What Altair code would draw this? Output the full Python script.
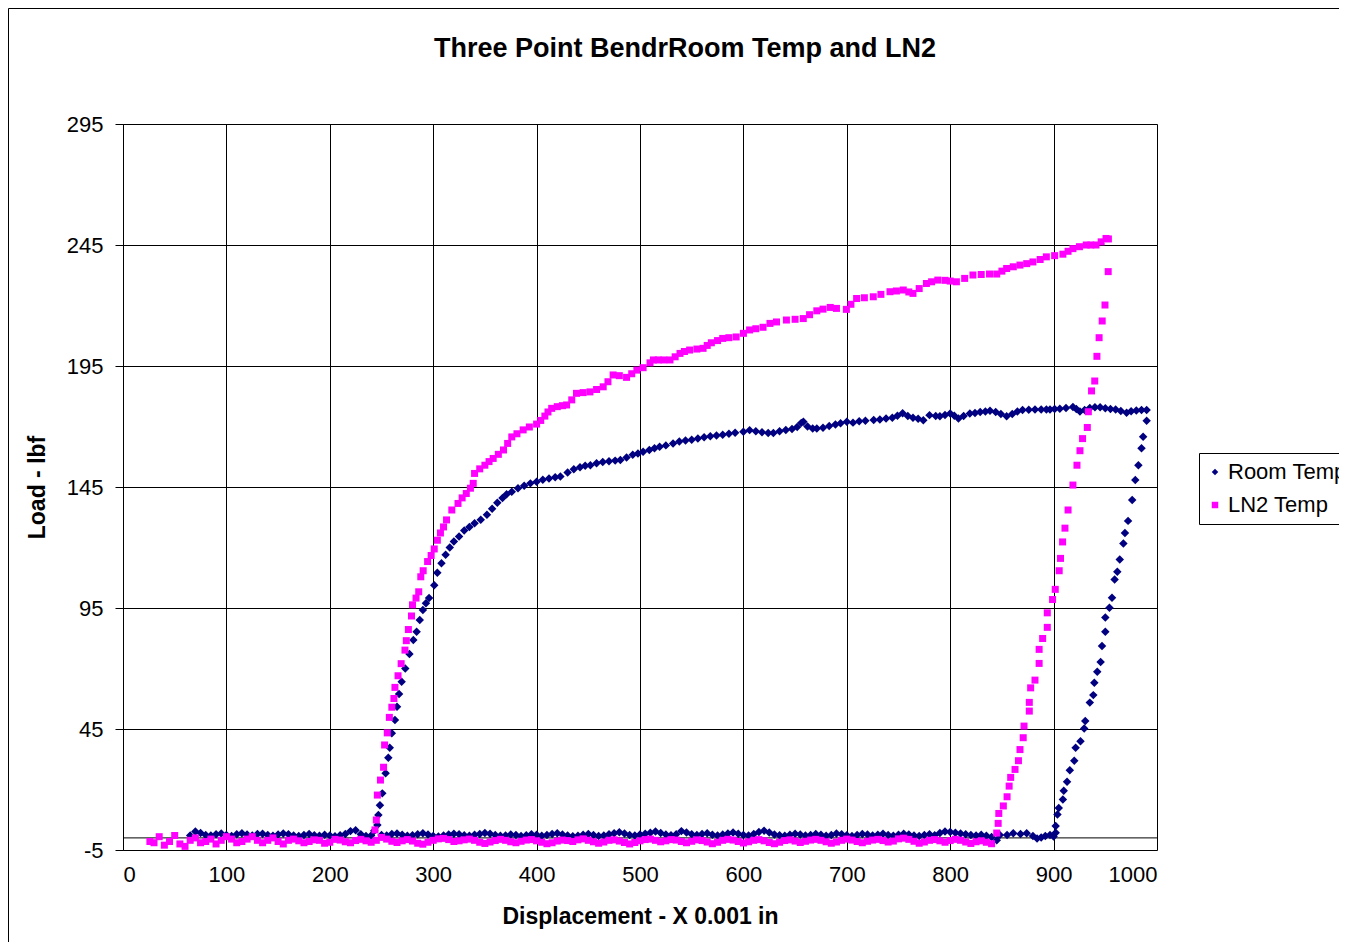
import altair as alt
import pandas as pd

# ---------------- data ----------------
series_names = ["Room Temp", "LN2 Temp"]
series_colors = ["#000080", "#FF00FF"]
series_shapes = ["diamond", "square"]

x_ticks = [0, 100, 200, 300, 400, 500, 600, 700, 800, 900, 1000]
y_ticks = [-5, 45, 95, 145, 195, 245, 295]

# Room Temp: flat start
room_base1_x = [65, 70, 75, 80, 85, 90, 95, 100, 105, 110, 115, 120, 125, 130, 135, 140, 145, 150,
                155, 160, 165, 170, 175, 180, 185, 190, 195, 200, 205, 210, 215, 220, 225, 230, 235, 240]
room_base1_y = [1.0, 2.6, 2.0, 1.2, 1.0, 1.5, 1.8, 1.2, 0.8, 1.5, 1.9, 1.4, 1.0, 1.6, 1.7, 1.2, 0.9, 1.4,
                1.8, 1.5, 1.0, 0.8, 1.2, 1.6, 1.1, 0.9, 1.3, 1.0, 0.7, 1.1, 1.6, 2.8, 3.2, 1.5, 0.8, 1.0]

# Room Temp: loading curve
room_load_x = [243, 246, 247, 248.5, 250.8, 254, 256.6, 258, 260, 263, 265, 267, 269.5, 273, 277, 280.8,
               284, 287, 290, 293, 296, 301, 304, 308, 312, 316, 320, 325, 330, 335, 340, 346, 352, 357,
               362, 367, 371, 376, 382, 388, 394, 400, 406, 412, 418, 423, 430, 436, 442, 447, 452, 458,
               464, 470, 476, 481, 487, 493, 498, 503, 509, 514, 519, 525, 532, 538, 544, 550, 556, 562,
               568, 574, 580, 586, 592, 600, 606, 612, 618, 624, 629, 635, 641, 647, 652, 656, 658, 662,
               667, 671, 677, 683, 689, 694, 700, 706, 712, 718, 726, 732, 738, 744, 749, 754, 759, 764,
               769, 774, 780, 786, 790, 795, 800, 804, 808, 813, 819, 824, 829, 834, 838.5, 844, 849,
               854.6, 860, 865, 870, 876, 882, 888, 893, 896.5, 901, 906, 912, 918.7, 922, 925.5, 930,
               935, 940, 945, 950, 955, 960, 965, 970.6, 975, 980, 985, 990]
room_load_y = [3.0, 5.3, 9.5, 13.5, 18.4, 26.7, 33.1, 37.3, 43.2, 48.7, 54.2, 59.5, 64.5, 70, 76, 81.8,
               85.2, 90, 94.2, 97, 99.1, 104.4, 109.6, 113.5, 117, 120, 122.5, 124.5, 127, 128.5, 130,
               131.5, 133.5, 136, 138.5, 140.5, 142, 143, 144.5, 145.5, 146.5, 147.2, 148, 148.5, 149,
               149.3, 151, 152.3, 153.2, 153.8, 154, 154.8, 155.3, 155.6, 155.9, 156.2, 157.2, 158.3,
               158.8, 159.6, 160.3, 161, 161.6, 162.2, 163, 163.8, 164.2, 164.5, 165, 165.6, 166, 166.3,
               166.6, 167, 167.4, 167.8, 168.5, 168, 167.6, 167.3, 167.3, 168, 168.6, 169, 169.8, 171.5,
               172, 170, 169.2, 169.2, 169.5, 170.2, 170.8, 171.3, 172, 171.6, 172.2, 172.4, 172.7, 172.9,
               173.3, 173.6, 174.4, 175.5, 174.3, 173.6, 173.2, 172.6, 174.7, 174.3, 174.2, 174.8, 175.4,
               174.4, 173.3, 174.3, 175.4, 175.6, 176, 176.2, 176.5, 176, 175.2, 174.2, 175.2, 176.2,
               176.8, 176.9, 177, 177, 177, 177, 177.2, 177.3, 177.6, 178.1, 177.2, 176.2, 176.8, 177.6,
               178, 178, 177.5, 177.2, 177, 176.4, 175.7, 176.3, 176.6, 176.8, 176.8]

# Room Temp: steep branch on the right
room_ramp_x = [990, 986.6, 985, 982, 979, 976, 972, 969, 967.5, 964, 961.6, 959, 956.5, 954, 950, 950,
               946.8, 945.5, 942.2, 939.4, 938.4, 935, 930.6, 929.6, 926, 921.3, 920, 915.7, 913, 909.8,
               909, 905, 903.7, 902, 902]
room_ramp_y = [172.4, 165.8, 161, 154, 147.9, 139.6, 131, 126, 121.7, 115, 110, 106.8, 99.2, 95.1, 91.1,
               85.2, 79.3, 72.7, 68.7, 64.1, 59, 55.9, 48.3, 45.2, 39.9, 37.3, 31.9, 28, 23.2, 19.5, 15.9,
               12.4, 9.7, 4.9, 2.1]

# Room Temp: flat part near zero, 250..900
room_base2_x = [250, 255, 260, 265, 270, 275, 280, 285, 290, 295, 300, 305, 310, 315, 320, 325, 330, 335,
                340, 345, 350, 355, 360, 365, 370, 375, 380, 385, 390, 395, 400, 405, 410, 415, 420, 425,
                430, 435, 440, 445, 450, 455, 460, 465, 470, 475, 480, 485, 490, 495, 500, 505, 510, 515,
                520, 525, 530, 535, 540, 545, 550, 555, 560, 565, 570, 575, 580, 585, 590, 595, 600, 605,
                610, 615, 620, 625, 630, 635, 640, 645, 650, 655, 660, 665, 670, 675, 680, 685, 690, 695,
                700, 705, 710, 715, 720, 725, 730, 735, 740, 745, 750, 755, 760, 765, 770, 775, 780, 785,
                790, 795, 800, 805, 810, 815, 820, 825, 830, 835, 840, 845, 848, 855, 861, 868, 874, 880,
                884, 888, 892, 896.5, 900]
room_base2_y = [1.2, 1.0, 1.6, 1.8, 1.3, 0.9, 1.1, 1.5, 1.9, 1.4,
                0.8, 0.6, 1.0, 1.4, 1.7, 1.5, 1.1, 0.9, 1.3, 1.6,
                2.0, 1.7, 1.2, 0.9, 1.0, 1.4, 1.2, 0.8, 1.1, 1.5,
                1.3, 0.9, 1.2, 1.6, 1.9, 1.4, 1.0, 0.7, 0.9, 1.3,
                1.6, 1.2, 0.8, 1.0, 1.5, 1.9, 2.3, 1.8, 1.2, 1.0,
                1.4, 1.7, 2.1, 2.6, 2.0, 1.4, 1.1, 1.5, 2.8, 2.2,
                1.5, 1.2, 1.6, 1.9, 1.3, 1.0, 1.4, 1.8, 2.2, 1.7,
                1.2, 1.0, 1.6, 2.4, 3.0, 2.2, 1.4, 1.1, 0.9, 1.3,
                1.7, 1.4, 1.0, 1.2, 1.6, 1.3, 0.9, 1.2, 1.8, 1.5,
                1.1, 0.8, 1.2, 1.6, 1.4, 1.0, 1.3, 1.7, 1.2, 0.9,
                1.3, 1.7, 1.4, 1.0, 0.8, 1.2, 1.5, 1.1, 2.0, 2.6,
                2.4, 2.1, 1.8, 1.5, 1.2, 1.0, 1.3, 0.9, 0.4, -1.0,
                1.2, 1.2, 1.9, 1.6, 1.9, 0.8, -0.2, 0.2, 0.8, 1.2, 0.6]

# LN2 Temp: flat part near zero
ln2_base_x = [26, 30, 35, 40, 45, 50, 55, 60, 65, 70, 75, 80, 85, 90, 95, 100, 105, 110, 115, 120, 125,
              130, 135, 140, 145, 150, 155, 160, 165, 170, 175, 180, 185, 190, 195, 200, 205, 210, 215,
              220, 225, 230, 235, 240, 245, 250, 255, 260, 265, 270, 275, 280, 285, 290, 295, 300, 305,
              310, 315, 320, 325, 330, 335, 340, 345, 350, 355, 360, 365, 370, 375, 380, 385, 390, 395,
              400, 405, 410, 415, 420, 425, 430, 435, 440, 445, 450, 455, 460, 465, 470, 475, 480, 485,
              490, 495, 500, 505, 510, 515, 520, 525, 530, 535, 540, 545, 550, 555, 560, 565, 570, 575,
              580, 585, 590, 595, 600, 605, 610, 615, 620, 625, 630, 635, 640, 645, 650, 655, 660, 665,
              670, 675, 680, 685, 690, 695, 700, 705, 710, 715, 720, 725, 730, 735, 740, 745, 750, 755,
              760, 765, 770, 775, 780, 785, 790, 795, 800, 805, 810, 815, 820, 825, 830, 835, 840]
ln2_base_y = [-1.5,
              -2.0, 0.5, -3.0, -1.5, 1.0, -2.5, -3.5, -1.0, 0.0, -2.0,
              -1.5, -0.5, -2.5, -1.0, 0.5, -0.5, -2.0, -1.5, -0.5, 0.5,
              -1.0, -2.0, -1.0, 0.0, -1.5, -2.5, -1.0, -0.5, -1.2, -2.0,
              -1.5, -0.8, -1.0, -2.2, -1.8, -0.6, -0.9, -1.6, -2.0, -1.1,
              -0.6, -1.2, -1.8, -1.0, 0.2, -0.5, -1.4, -1.9, -1.2, -0.7,
              -1.3, -2.2, -2.6, -1.8, -1.0, -0.4, -0.2, -0.7, -1.5, -1.2,
              -0.8, -0.5, -1.0, -1.8, -2.3, -1.7, -1.1, -0.6, -1.0, -1.6,
              -2.0, -1.4, -0.9, -0.7, -1.2, -1.8, -2.4, -2.0, -1.3, -0.9,
              -1.1, -1.5, -0.8, -0.4, -1.0, -1.6, -2.2, -1.7, -1.0, -0.8,
              -1.3, -1.9, -2.5, -1.9, -1.2, -0.7, -0.5, -1.0, -1.6, -1.2,
              -0.7, -0.9, -1.5, -2.0, -1.4, -0.8, -1.1, -1.7, -2.4, -1.8,
              -1.0, -0.6, -0.9, -1.5, -2.1, -1.6, -1.0, -0.7, -1.2, -1.9,
              -2.4, -1.8, -1.1, -0.8, -1.3, -1.9, -1.4, -0.9, -0.6, -1.0,
              -1.6, -2.2, -1.7, -1.0, -0.5, -0.9, -1.5, -2.0, -1.4, -0.9,
              -0.6, -1.1, -1.7, -1.3, -0.4, -0.1, -0.6, -1.4, -2.2, -1.7,
              -1.0, -0.7, -1.2, -1.8, -1.1, -0.6, -1.0, -1.7, -2.3, -1.6,
              -1.2, -1.8, -2.4]

# LN2 Temp: loading curve
ln2_load_x = [243.7, 245, 246, 249, 252, 253, 255.6, 257.6, 260, 262, 263, 266, 269, 272.7, 274, 276,
              279, 280, 283.4, 286, 288, 290.3, 294.6, 298, 301, 304, 307, 310, 312.9, 318, 324, 328,
              332, 336, 338.7, 340, 345, 350, 354, 358, 363, 368, 372, 376, 381, 387, 393, 400, 404,
              408, 411, 414.6, 420, 425, 429, 434, 438.6, 445, 451.6, 458, 464.4, 469, 474, 480, 487,
              492, 497, 503, 509.7, 513, 517.7, 523, 529, 534, 538.7, 543, 548, 555, 561, 565, 569,
              575, 580, 586, 593, 600, 606, 612, 619, 625.7, 632, 641.6, 650, 657.9, 664, 671, 677,
              684, 690, 699.6, 704, 709.5, 717, 725.6, 733, 741.8, 748, 754.6, 760, 764, 770, 777, 782,
              788, 795, 800, 806, 814, 822, 830, 838, 845, 850, 854.6, 861, 867.5, 874, 880, 887, 893,
              901, 909, 914, 918.7, 925, 931.6, 936, 941, 946, 950.7, 953]
ln2_load_y = [3.3, 7.4, 17.7, 23.9, 29.2, 38.4, 43.4, 49.8, 54, 57.6, 62.2, 67, 72, 77.6, 81.5, 86.1,
              91.7, 96.3, 99.1, 101.7, 107.9, 110.4, 114.2, 116.7, 119.4, 123, 126, 128.5, 131.4, 135.5,
              138.2, 140.5, 142.3, 144.5, 146.5, 150.6, 152.5, 154, 155.5, 156.8, 158.5, 160.3, 163,
              165.7, 167, 168.6, 169.8, 171, 172.5, 174.3, 176, 177.5, 178.2, 178.6, 178.9, 181, 183.7,
              184, 184.3, 185.3, 186.4, 188.5, 191.3, 191, 190.3, 191.8, 193.3, 194.3, 196.3, 197.5,
              197.5, 197.5, 197.5, 198.8, 200.2, 201, 201.6, 202, 202.3, 203.5, 204.6, 205.5, 206.4,
              206.7, 207, 208.5, 209.9, 210.4, 211, 212.6, 213.2, 214, 214.3, 214.6, 216.2, 217.8,
              218.5, 219.2, 218.8, 218.4, 220.5, 222.9, 223.2, 223.6, 224.6, 225.7, 226, 226.4, 225.6,
              225, 227, 229.1, 229.8, 230.5, 230.4, 230.1, 229.8, 231.2, 232.6, 232.8, 233, 233, 234.2,
              235.3, 236, 236.7, 237.3, 238, 239, 240.1, 240.6, 241.2, 242.4, 243.5, 244.3, 245, 245,
              245, 246.3, 247.7, 247.5]

# LN2 Temp: steep branch on the right
ln2_ramp_x = [952.8, 949.7, 947, 944, 941.9, 939.8, 936.7, 933.6, 932.6, 928, 925.5, 922.6, 918.7, 914,
              911, 908.7, 906.7, 905.4, 901.6, 899, 893.9, 893.9, 889.4, 886, 886, 882, 877.8, 876.5,
              876.5, 871.4, 870.6, 867.5, 866, 862.7, 858.5, 857, 855, 851.4, 847, 846.4, 845]
ln2_ramp_y = [234, 220.2, 213.6, 206.7, 199, 188.8, 184.7, 176.1, 169.6, 165, 160, 154, 145.8, 135.5,
              128, 122.3, 115.5, 110.4, 102.7, 98.5, 93, 87, 82.4, 77.9, 72.1, 65.2, 62, 56, 52.4, 46.2,
              41.4, 36.5, 31.9, 28.3, 25, 21.4, 17, 13.2, 10.1, 6, 2]

zero_line = [0]

# ---------------- build table ----------------
rows = []
for xs, ys in [(room_base1_x, room_base1_y), (room_load_x, room_load_y),
               (room_ramp_x, room_ramp_y), (room_base2_x, room_base2_y)]:
    for a, b in zip(xs, ys):
        rows.append({"x": a, "y": b, "series": "Room Temp"})
for xs, ys in [(ln2_base_x, ln2_base_y), (ln2_load_x, ln2_load_y), (ln2_ramp_x, ln2_ramp_y)]:
    for a, b in zip(xs, ys):
        rows.append({"x": a, "y": b, "series": "LN2 Temp"})
df = pd.DataFrame(rows)

FONT = "Liberation Sans"
W, H = 1034, 726

xscale = alt.Scale(domain=[0, 1000], nice=False, zero=False)
yscale = alt.Scale(domain=[-5, 295], nice=False, zero=False)

x_enc = alt.X("x:Q", scale=xscale, axis=alt.Axis(
    values=x_ticks, labelExpr="datum.value + ''", title="Displacement - X 0.001 in",
    grid=True, gridColor="black", gridWidth=1, domain=False, ticks=False, tickSize=0,
    labelPadding=14, labelFontSize=22, labelFont=FONT, labelColor="black",
    titleFontSize=23, titleFont=FONT, titleFontWeight="bold", titleColor="black",
    titleX=W / 2, titleY=73, titleBaseline="alphabetic", titleAlign="center"))
y_enc = alt.Y("y:Q", scale=yscale, axis=alt.Axis(
    values=y_ticks, labelExpr="datum.value + ''", title="Load - lbf", grid=True,
    gridColor="black", gridWidth=1, domain=True, domainColor="black", ticks=True,
    tickColor="black", tickSize=8, labelPadding=12, labelFontSize=22, labelFont=FONT,
    labelColor="black", titleFontSize=23, titleFont=FONT, titleFontWeight="bold",
    titleColor="black", titleX=-74, titleY=H / 2, titleAngle=270, titleAlign="center",
    titleBaseline="bottom"))

legend_params = dict(title=None, orient="none", legendX=1076, legendY=329,
                     strokeColor="black", fillColor="white", padding=8,
                     labelFontSize=22, labelFont=FONT, labelColor="black",
                     symbolSize=42, symbolOffset=-3, labelOffset=2,
                     rowPadding=11, symbolStrokeWidth=0)
color_enc = alt.Color("series:N", scale=alt.Scale(domain=series_names, range=series_colors),
                      legend=alt.Legend(**legend_params))
shape_enc = alt.Shape("series:N", scale=alt.Scale(domain=series_names, range=series_shapes),
                      legend=alt.Legend(**legend_params))

base = alt.Chart(df)
room = base.transform_filter(alt.datum.series == "Room Temp").mark_point(
    filled=True, opacity=1, size=72, strokeWidth=0).encode(
    x=x_enc, y=y_enc, color=color_enc, shape=shape_enc)
ln2 = base.transform_filter(alt.datum.series == "LN2 Temp").mark_point(
    filled=True, opacity=1, size=49, strokeWidth=0).encode(
    x=x_enc, y=y_enc, color=color_enc, shape=shape_enc)

zero = alt.Chart(pd.DataFrame({"y": zero_line})).mark_rule(color="black", strokeWidth=1).encode(
    y=alt.Y("y:Q", scale=yscale))

frame = alt.Chart(pd.DataFrame({"k": [0]})).mark_rect(
    fillOpacity=0, stroke="black", strokeWidth=1).encode(
    x=alt.value(-114.5), x2=alt.value(W + 400), y=alt.value(-115.5), y2=alt.value(H + 400))

chart = alt.layer(zero, room, ln2, frame).properties(
    width=W, height=H,
    title=alt.TitleParams("Three Point BendrRoom Temp and LN2", fontSize=27, font=FONT,
                          fontWeight="bold", color="black", anchor="middle", frame="group",
                          baseline="alphabetic", dx=45, offset=-76),
    autosize=alt.AutoSizeParams(type="none"),
    padding={"left": 115, "top": 116, "right": 182, "bottom": 92},
).configure_view(stroke="#808080", strokeWidth=1).configure(background="white")

chart.save("out.html", embed_options={"renderer": "svg", "actions": False})
